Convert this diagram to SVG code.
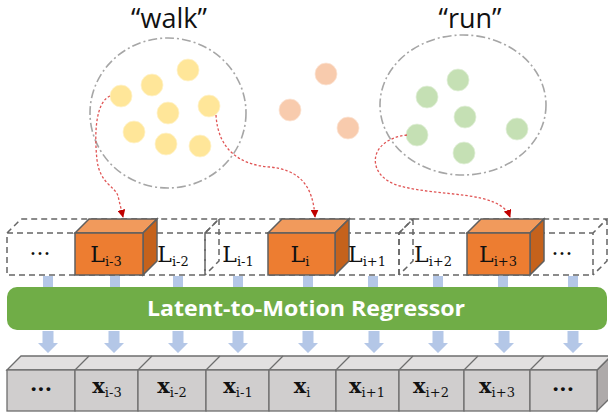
<svg xmlns="http://www.w3.org/2000/svg" width="608" height="414" viewBox="0 0 608 414">
<style>
.cl{fill:none;stroke:#A6A6A6;stroke-width:1.6;stroke-dasharray:9 3 2 3}
.y{fill:#FFE699;stroke:#FFF2CC;stroke-width:0.8}
.p{fill:#F8CBAD;stroke:#FBE5D6;stroke-width:0.8}
.g{fill:#C5E0B4;stroke:#E2F0D9;stroke-width:0.8}
.q{font-family:"Open Sans","Noto Sans",sans-serif;font-size:27px;fill:#111;text-anchor:middle}
.dash{fill:none;stroke:#666;stroke-width:1.5;stroke-dasharray:6 4}
.of{fill:#ED7D31;stroke:#5F5F5F;stroke-width:1.5}
.ot{fill:#F19A5C;stroke:#5F5F5F;stroke-width:1.5}
.os{fill:#C5621C;stroke:#5F5F5F;stroke-width:1.5}
.L{font-family:"DejaVu Serif","Liberation Serif",serif;font-size:22px;fill:#111;text-anchor:middle}
.sub{font-size:13px}
.bl{fill:#B4C7E7}
.gf{fill:#D0CECE;stroke:#6E6E6E;stroke-width:1.3}
.gt{fill:#E2E0E0;stroke:#6E6E6E;stroke-width:1.3}
.gs{fill:#AEAAAA;stroke:#6E6E6E;stroke-width:1.3}
.X{font-family:"DejaVu Serif","Liberation Serif",serif;font-size:21px;font-weight:bold;fill:#111;text-anchor:middle}
.xs{font-size:13px;font-weight:normal}
.red{fill:none;stroke:#E05555;stroke-width:1.3;stroke-dasharray:2.5 2}
</style>
<defs>
<marker id="ah" viewBox="0 0 10 10" refX="9" refY="5" markerWidth="8" markerHeight="8" markerUnits="userSpaceOnUse" orient="auto">
<path d="M0,0 L10,5 L0,10 z" fill="#C00000"/>
</marker>
</defs>

<g id="walk-cluster">
<ellipse class="cl" cx="168" cy="113" rx="78" ry="75"/>
<text class="q" x="169" y="28">“walk”</text>
<circle class="y" cx="121" cy="96" r="11"/>
<circle class="y" cx="152" cy="85" r="11"/>
<circle class="y" cx="188" cy="70" r="11"/>
<circle class="y" cx="168" cy="113" r="11"/>
<circle class="y" cx="209" cy="106" r="11"/>
<circle class="y" cx="134" cy="132" r="11"/>
<circle class="y" cx="166" cy="144" r="11"/>
<circle class="y" cx="200" cy="146" r="11"/>
</g>

<g id="middle-points">
<circle class="p" cx="290" cy="110" r="11"/>
<circle class="p" cx="326" cy="74" r="11"/>
<circle class="p" cx="348" cy="128" r="11"/>
</g>

<g id="run-cluster">
<ellipse class="cl" cx="463" cy="105" rx="83" ry="70"/>
<text class="q" x="470" y="28">“run”</text>
<circle class="g" cx="427" cy="97" r="11"/>
<circle class="g" cx="458" cy="80" r="11"/>
<circle class="g" cx="465" cy="117" r="11"/>
<circle class="g" cx="417" cy="135" r="11"/>
<circle class="g" cx="464" cy="153" r="11"/>
<circle class="g" cx="517" cy="129" r="11"/>
</g>

<g id="latent-blocks">
<path class="dash" d="M7,233 H205 V275 H7 Z M7,233 L21,219 H219 L205,233 M219,219 V261 L205,275"/>
<path class="dash" d="M205,233 H399 V275 H205 Z M205,233 L219,219 H413 L399,233 M413,219 V261 L399,275"/>
<path class="dash" d="M399,233 H593 V275 H399 Z M399,233 L413,219 H607 L593,233 M607,219 V261 L593,275"/>
<g id="L-i-3">
<polygon class="ot" points="75,233 89,219 157,219 143,233"/>
<polygon class="os" points="143,233 157,219 157,261 143,275"/>
<rect class="of" x="75" y="233" width="68" height="42"/>
</g>
<g id="L-i">
<polygon class="ot" points="268,233 282,219 349,219 335,233"/>
<polygon class="os" points="335,233 349,219 349,261 335,275"/>
<rect class="of" x="268" y="233" width="67" height="42"/>
</g>
<g id="L-i3">
<polygon class="ot" points="467,233 481,219 544,219 530,233"/>
<polygon class="os" points="530,233 544,219 544,261 530,275"/>
<rect class="of" x="467" y="233" width="63" height="42"/>
</g>
<text class="L" x="40" y="261">···</text>
<text class="L" x="106" y="262">L<tspan class="sub" dy="4">i-3</tspan></text>
<text class="L" x="173" y="262">L<tspan class="sub" dy="4">i-2</tspan></text>
<text class="L" x="238" y="262">L<tspan class="sub" dy="4">i-1</tspan></text>
<text class="L" x="300" y="262">L<tspan class="sub" dy="4">i</tspan></text>
<text class="L" x="367" y="262">L<tspan class="sub" dy="4">i+1</tspan></text>
<text class="L" x="433" y="262">L<tspan class="sub" dy="4">i+2</tspan></text>
<text class="L" x="498" y="262">L<tspan class="sub" dy="4">i+3</tspan></text>
<text class="L" x="562" y="261">···</text>
</g>

<g id="connectors">
<path class="red" marker-end="url(#ah)" d="M110,96 C96,102 94,132 97,160 C100,184 115,186 118,196 L123,217"/>
<path class="red" marker-end="url(#ah)" d="M216,115 C218,150 240,165 270,167 C300,170 313,186 315,217"/>
<path class="red" marker-end="url(#ah)" d="M407,135 C366,140 366,177 400,186 C440,197 500,190 510,217"/>
<g class="bl">
<rect x="43" y="276" width="10" height="12"/>
<rect x="110" y="276" width="10" height="12"/>
<rect x="173" y="276" width="10" height="12"/>
<rect x="233" y="276" width="10" height="12"/>
<rect x="303" y="276" width="10" height="12"/>
<rect x="368" y="276" width="10" height="12"/>
<rect x="433" y="276" width="10" height="12"/>
<rect x="498" y="276" width="10" height="12"/>
<rect x="568" y="276" width="10" height="12"/>
</g>
<g class="bl">
<polygon points="42.5,331 53.5,331 53.5,343 58,343 48,353 38,343 42.5,343"/>
<polygon points="108.5,331 119.5,331 119.5,343 124,343 114,353 104,343 108.5,343"/>
<polygon points="172.5,331 183.5,331 183.5,343 188,343 178,353 168,343 172.5,343"/>
<polygon points="232.5,331 243.5,331 243.5,343 248,343 238,353 228,343 232.5,343"/>
<polygon points="302.5,331 313.5,331 313.5,343 318,343 308,353 298,343 302.5,343"/>
<polygon points="368.5,331 379.5,331 379.5,343 384,343 374,353 364,343 368.5,343"/>
<polygon points="432.5,331 443.5,331 443.5,343 448,343 438,353 428,343 432.5,343"/>
<polygon points="498.5,331 509.5,331 509.5,343 514,343 504,353 494,343 498.5,343"/>
<polygon points="567.5,331 578.5,331 578.5,343 583,343 573,353 563,343 567.5,343"/>
</g>
</g>

<g id="regressor">
<rect x="7" y="287" width="600" height="43" rx="10" fill="#70AD47"/>
<text x="306" y="316" font-family="'Open Sans','Noto Sans',sans-serif" font-size="22" font-weight="bold" fill="#fff" text-anchor="middle" textLength="318" lengthAdjust="spacingAndGlyphs">Latent-to-Motion Regressor</text>
</g>

<g id="motion-blocks">
<polygon class="gs" points="597,370 611,356 611,397 597,411"/>
<polygon class="gt" points="7,370 21,356 611,356 597,370"/>
<path fill="none" stroke="#6E6E6E" stroke-width="1.3" d="M75,370 L89,356 M138,370 L152,356 M206,370 L220,356 M269,370 L283,356 M336,370 L350,356 M399,370 L413,356 M464,370 L478,356 M530,370 L544,356"/>
<rect class="gf" x="7" y="370" width="68" height="41"/>
<rect class="gf" x="75" y="370" width="63" height="41"/>
<rect class="gf" x="138" y="370" width="68" height="41"/>
<rect class="gf" x="206" y="370" width="63" height="41"/>
<rect class="gf" x="269" y="370" width="67" height="41"/>
<rect class="gf" x="336" y="370" width="63" height="41"/>
<rect class="gf" x="399" y="370" width="65" height="41"/>
<rect class="gf" x="464" y="370" width="66" height="41"/>
<rect class="gf" x="530" y="370" width="67" height="41"/>
<text class="X" x="41" y="396">···</text>
<text class="X" x="107" y="393">x<tspan class="xs" dy="4">i-3</tspan></text>
<text class="X" x="172" y="393">x<tspan class="xs" dy="4">i-2</tspan></text>
<text class="X" x="238" y="393">x<tspan class="xs" dy="4">i-1</tspan></text>
<text class="X" x="302" y="393">x<tspan class="xs" dy="4">i</tspan></text>
<text class="X" x="367" y="393">x<tspan class="xs" dy="4">i+1</tspan></text>
<text class="X" x="431" y="393">x<tspan class="xs" dy="4">i+2</tspan></text>
<text class="X" x="497" y="393">x<tspan class="xs" dy="4">i+3</tspan></text>
<text class="X" x="563" y="396">···</text>
</g>
</svg>
